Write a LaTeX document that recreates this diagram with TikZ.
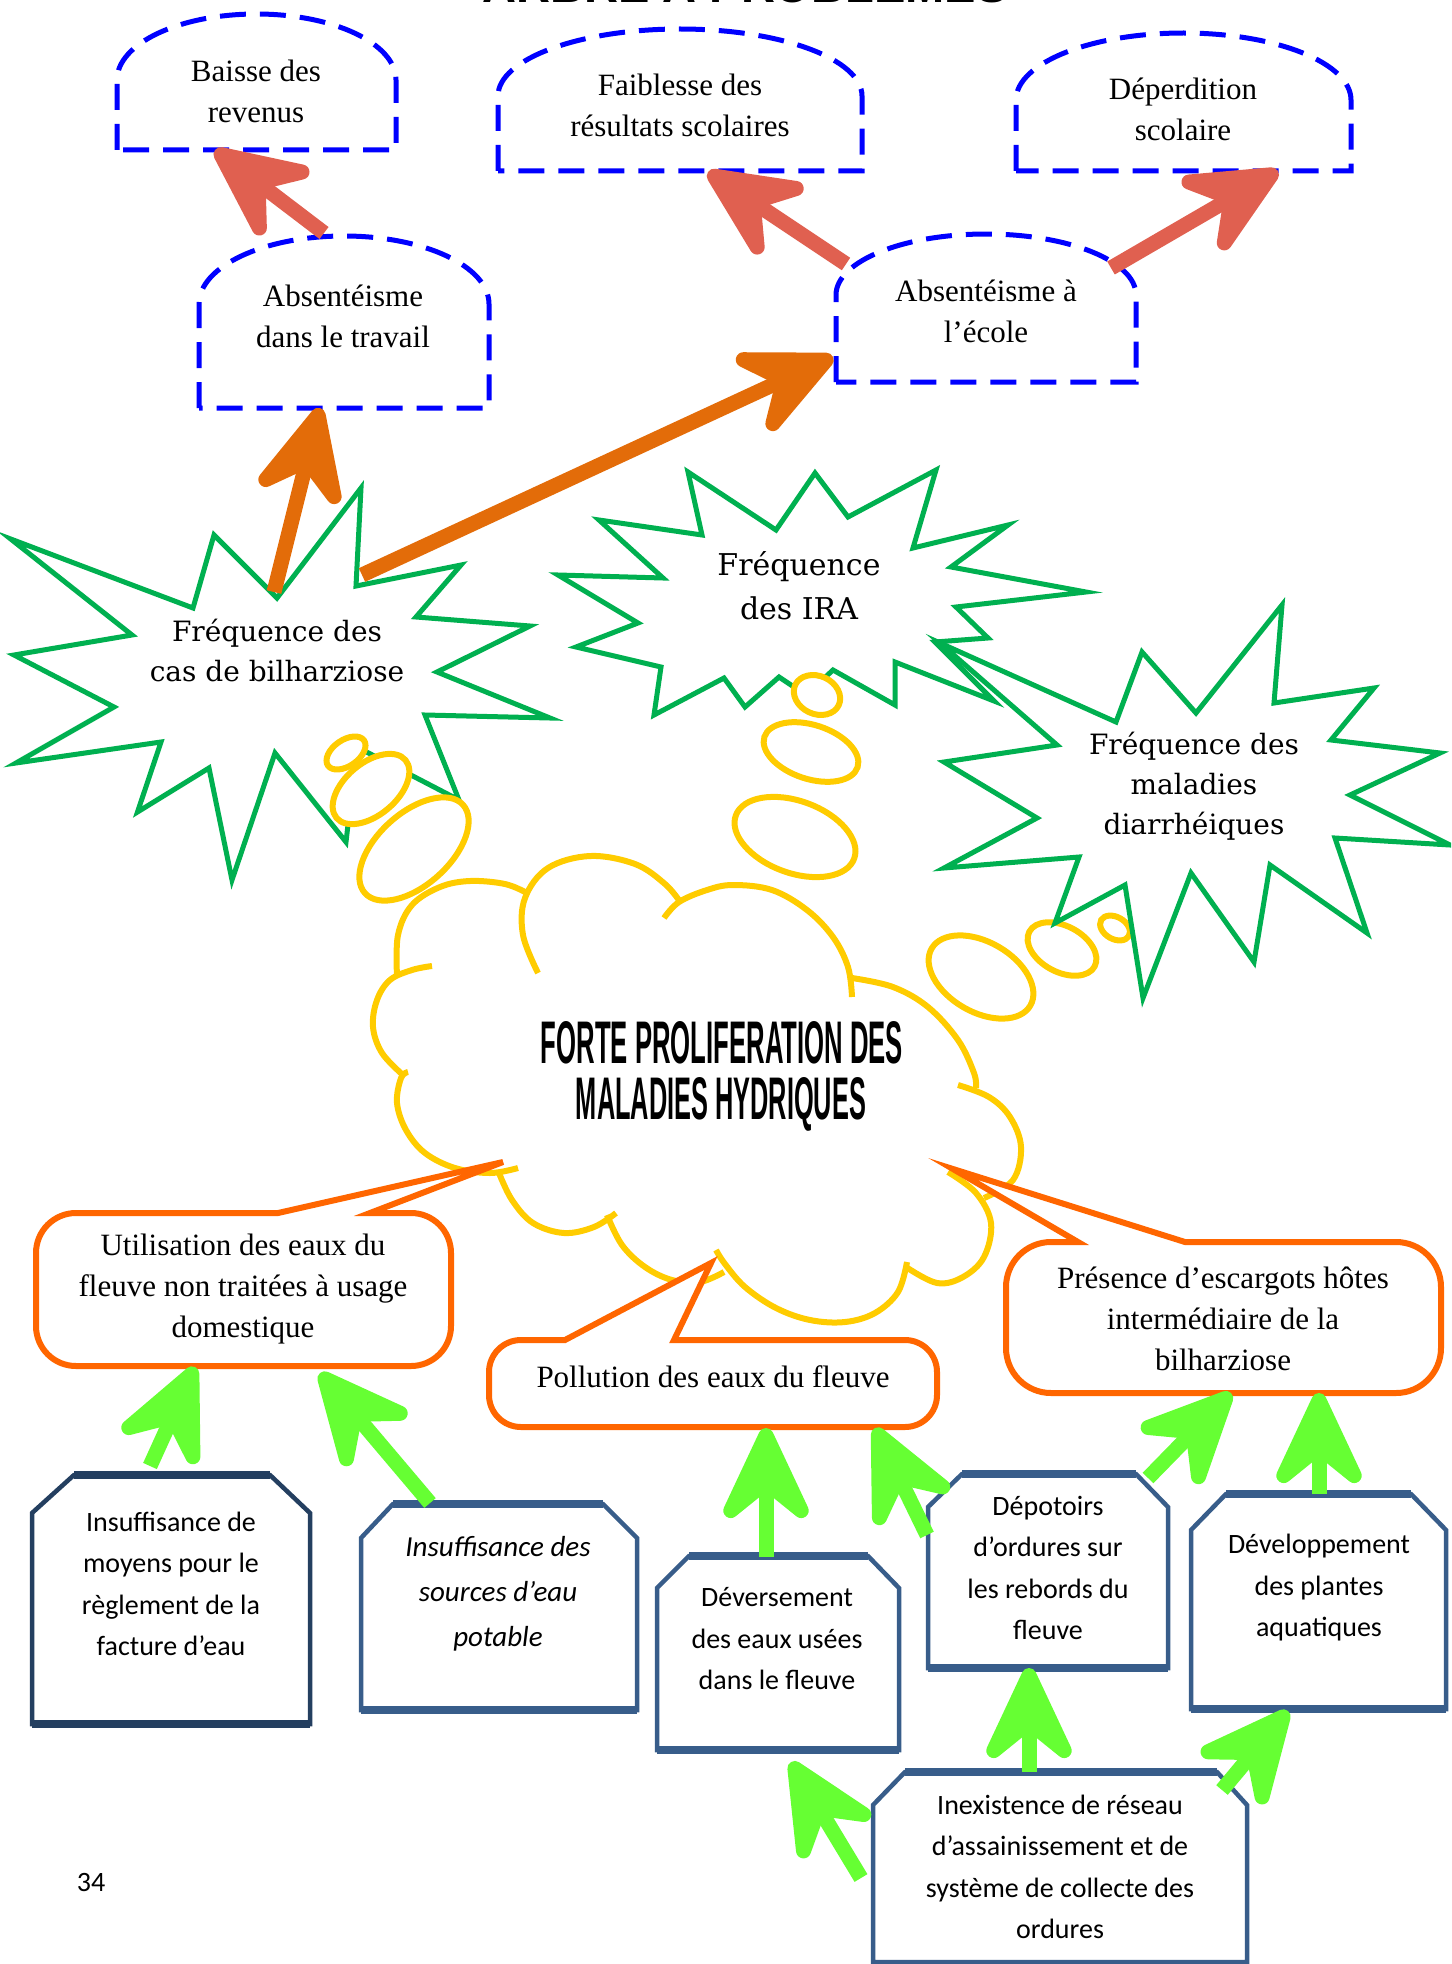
\documentclass[tikz,border=0pt]{standalone}
\usepackage{fontspec}
\newfontfamily\palfont{Liberation Serif}
\newfontfamily\calfont{Carlito}
\newfontfamily\headfont{Liberation Sans}
\newfontfamily\burstfont{DejaVu Serif}
\usetikzlibrary{arrows.meta}
\definecolor{burstgreen}{HTML}{00B050}
\definecolor{bubbleyellow}{HTML}{FFCC00}
\definecolor{calloutorange}{HTML}{FF6600}
\definecolor{boxblue}{HTML}{385D8A}
\definecolor{boxnavy}{HTML}{243F60}
\definecolor{arrowgreen}{HTML}{66FF33}
\definecolor{arrowsalmon}{HTML}{E06050}
\definecolor{arroworange}{HTML}{E36C09}
\definecolor{dashblue}{HTML}{0000FF}
\tikzset{
  burst/.style={draw=burstgreen, line width=5pt, fill=white, line join=miter},
  bubble/.style={draw=bubbleyellow, line width=6pt, fill=white},
  cloudline/.style={draw=bubbleyellow, line width=6pt},
  callout/.style={draw=calloutorange, line width=6pt, fill=white, line join=miter},
  archbox/.style={draw=dashblue, line width=5pt, fill=white, dash pattern=on 26pt off 14pt},
  hexbox/.style={draw=boxblue, line width=4.5pt, fill=white},
  hexbar/.style={draw=boxblue, line width=8pt},
  bursttext/.style={font=\burstfont\fontsize{28}{40}\selectfont, align=center, inner sep=0pt},
  paltext/.style={font=\palfont\fontsize{31}{41}\selectfont, align=center, inner sep=0pt},
  caltext/.style={font=\calfont\fontsize{28}{41.5}\selectfont, align=center, inner sep=0pt},
  bigtip/.style={-{Stealth[length=118pt,width=110pt,inset=44pt,round]}},
  garrow/.style={draw=arrowgreen, line width=15pt, bigtip},
  rarrow/.style={draw=arrowsalmon, line width=15pt, bigtip},
  oarrow/.style={draw=arroworange, line width=15pt, bigtip}
}
\begin{document}
\begin{tikzpicture}[x=1pt,y=-1pt]
\useasboundingbox (0,0) rectangle (1451,1964);
\clip (0,0) rectangle (1451,1964);

% partially visible page title
\node[anchor=base, inner sep=0pt, font=\headfont\bfseries] (pagetitle) at (745,3) {\resizebox{525pt}{!}{ARBRE A PROBLEMES}};

% ---------- cloud ----------
\fill[white] (397,976) -- (398,935) -- (412,905) -- (440,887) -- (470,881) -- (505,884) -- (527,893)
  -- (548,868) -- (590,856) -- (635,864) -- (681,903) -- (707,890) -- (733,885) -- (772,890) -- (807,910)
  -- (833,937) -- (852,978) -- (893,987) -- (928,1007) -- (958,1040) -- (976,1088) -- (989,1097)
  -- (1010,1117) -- (1021,1147) -- (1013,1180) -- (984,1200) -- (991,1223) -- (984,1257) -- (963,1277)
  -- (937,1283) -- (906,1267) -- (898,1292) -- (875,1313) -- (845,1322) -- (810,1320) -- (776,1308)
  -- (745,1287) -- (720,1262) -- (700,1282) -- (672,1280) -- (645,1267) -- (622,1245) -- (607,1215)
  -- (594,1227) -- (564,1233) -- (533,1223) -- (512,1200) -- (499,1173) -- (490,1173) -- (455,1168)
  -- (425,1153) -- (406,1130) -- (397,1103) -- (403,1075) -- (382,1053) -- (373,1027) -- (377,1000)
  -- (390,980) -- cycle;
\draw[cloudline] plot[smooth,tension=0.6] coordinates {(397,976) (398,935) (412,905) (440,887) (470,881) (505,884) (527,893)};
\draw[cloudline] plot[smooth,tension=0.6] coordinates {(538,973) (523,935) (525,898) (548,868) (590,856) (635,864) (665,884) (681,903)};
\draw[cloudline] plot[smooth,tension=0.6] coordinates {(664,918) (679,902) (707,890) (733,885) (772,890) (807,910) (833,937) (848,967) (852,997)};
\draw[cloudline] plot[smooth,tension=0.6] coordinates {(852,978) (893,987) (928,1007) (958,1040) (974,1073) (976,1088)};
\draw[cloudline] plot[smooth,tension=0.6] coordinates {(958,1085) (989,1097) (1010,1117) (1021,1147) (1013,1180) (984,1198)};
\draw[cloudline] plot[smooth,tension=0.6] coordinates {(948,1172) (976,1193) (991,1223) (984,1257) (963,1277) (937,1283) (906,1267)};
\draw[cloudline] plot[smooth,tension=0.6] coordinates {(907,1262) (898,1292) (875,1313) (845,1322) (810,1320) (776,1308) (745,1287) (725,1264) (716,1250)};
\draw[cloudline] plot[smooth,tension=0.6] coordinates {(724,1272) (700,1282) (672,1280) (645,1267) (622,1245) (607,1215)};
\draw[cloudline] plot[smooth,tension=0.6] coordinates {(616,1213) (594,1227) (564,1233) (533,1223) (512,1200) (499,1173)};
\draw[cloudline] plot[smooth,tension=0.6] coordinates {(518,1168) (490,1173) (455,1168) (425,1153) (406,1130) (397,1103) (401,1078) (408,1072)};
\draw[cloudline] plot[smooth,tension=0.6] coordinates {(403,1075) (382,1053) (373,1027) (377,1000) (390,980) (412,970) (432,966)};
\node[inner sep=0pt] (cloudtitleA) at (722,1043) {\resizebox{362pt}{42pt}{\headfont\bfseries FORTE PROLIFERATION DES}};
\node[inner sep=0pt] (cloudtitleB) at (721,1104) {\resizebox{290pt}{42pt}{\headfont\bfseries MALADIES HYDRIQUES}};

% ---------- orange callouts ----------
\draw[callout] (278,1213) -- (503,1162) -- (370,1213) -- (411,1213) arc[start angle=270,end angle=360,radius=40]
  -- (451,1326) arc[start angle=0,end angle=90,radius=40] -- (76,1366) arc[start angle=90,end angle=180,radius=40]
  -- (36,1253) arc[start angle=180,end angle=270,radius=40] -- cycle;
\draw[callout] (565,1340) -- (711,1263) -- (674,1340) -- (905,1340) arc[start angle=270,end angle=360,radius=32]
  -- (937,1395) arc[start angle=0,end angle=90,radius=32] -- (521,1427) arc[start angle=90,end angle=180,radius=32]
  -- (489,1372) arc[start angle=180,end angle=270,radius=32] -- cycle;
\draw[callout] (1078,1242) -- (953,1169) -- (1185,1242) -- (1396,1242) arc[start angle=270,end angle=360,radius=45]
  -- (1441,1348) arc[start angle=0,end angle=90,radius=45] -- (1051,1393) arc[start angle=90,end angle=180,radius=45]
  -- (1006,1287) arc[start angle=180,end angle=270,radius=45] -- cycle;
\node[paltext] (usage) at (243,1289) {Utilisation des eaux du\\fleuve non traitées à usage\\domestique};
\node[paltext] (pollution) at (713,1377) {Pollution des eaux du fleuve};
\node[paltext] (escargots) at (1223,1319) {Présence d’escargots hôtes\\intermédiaire de la\\bilharziose};

% ---------- starbursts ----------
\draw[burst] (10.7,539) -- (193,608) -- (214,535) -- (277,598) -- (361,488) -- (356,586) -- (461,565) -- (416,617)
  -- (530,626) -- (437,672) -- (550,718) -- (425,715) -- (459,800) -- (357,747) -- (346,842) -- (275,753)
  -- (232,880) -- (209,768) -- (137.5,812) -- (161,742) -- (16,763) -- (114,707) -- (14,655) -- (132,635) -- cycle;
\draw[burst] (688,472) -- (776,530) -- (815,473) -- (848,517) -- (936,470) -- (913,548) -- (1008,525) -- (951,567)
  -- (1086,592) -- (956,607) -- (988,638) -- (935,642) -- (994,701) -- (895,662) -- (895,705) -- (833,670)
  -- (806,695) -- (779,677) -- (745,707) -- (724,678) -- (654,715) -- (661,667) -- (576,647) -- (638,623)
  -- (558,575) -- (663,578) -- (599,520) -- (702,535) -- cycle;
% bubbles
\draw[bubble, rotate around={42:(414,849)}] (414,849) ellipse[x radius=66, y radius=36];
\draw[bubble, rotate around={40:(371,789)}] (371,789) ellipse[x radius=45, y radius=26];
\draw[bubble, rotate around={35:(346,753)}] (346,753) ellipse[x radius=22, y radius=13];
\draw[bubble, rotate around={-20:(795,837)}] (795,837) ellipse[x radius=63, y radius=36];
\draw[bubble, rotate around={-18:(811,752)}] (811,752) ellipse[x radius=49, y radius=27];
\draw[bubble, rotate around={-25:(817,695)}] (817,695) ellipse[x radius=24, y radius=19];
\draw[bubble, rotate around={-30:(981,977)}] (981,977) ellipse[x radius=57, y radius=35];
\draw[bubble, rotate around={-28:(1062,949)}] (1062,949) ellipse[x radius=37, y radius=23];
\draw[bubble, rotate around={-30:(1115,928)}] (1115,928) ellipse[x radius=16, y radius=11];
\draw[burst] (940,643) -- (1116,722) -- (1142,652) -- (1196,713) -- (1282,605) -- (1274,703) -- (1374,688) -- (1331,740)
  -- (1440,753) -- (1350,795) -- (1450,845) -- (1335,838) -- (1367,933) -- (1270,865) -- (1254,962) -- (1191,873)
  -- (1143,998) -- (1125,885) -- (1055,923) -- (1079,857) -- (944,868) -- (1037,818) -- (944,762) -- (1057,745) -- cycle;
\node[bursttext] (bilharziose) at (277,650) {Fréquence des\\cas de bilharziose};
\node[bursttext, font=\burstfont\fontsize{30}{44}\selectfont] (ira) at (799,586) {Fréquence\\des IRA};
\node[bursttext] (diarrhee) at (1194,786) {Fréquence des\\maladies\\diarrhéiques};

% ---------- dashed blue boxes ----------
\draw[archbox] (117,150) -- (117,80) arc[start angle=180,end angle=360,x radius=139.5,y radius=66] -- (396,150) -- cycle;
\draw[archbox] (498,171) -- (498,96) arc[start angle=180,end angle=360,x radius=182,y radius=67] -- (862,171) -- cycle;
\draw[archbox] (1016,171) -- (1016,100) arc[start angle=180,end angle=360,x radius=167.5,y radius=67] -- (1351,171) -- cycle;
\draw[archbox] (199,408) -- (199,304) arc[start angle=180,end angle=360,x radius=145,y radius=68] -- (489,408) -- cycle;
\draw[archbox] (836,382) -- (836,295) arc[start angle=180,end angle=360,x radius=150,y radius=61] -- (1136,382) -- cycle;
\node[paltext] (revenus) at (256,91) {Baisse des\\revenus};
\node[paltext] (resultats) at (680,105) {Faiblesse des\\résultats scolaires};
\node[paltext] (deperdition) at (1183,109) {Déperdition\\scolaire};
\node[paltext] (travail) at (343,316) {Absentéisme\\dans le travail};
\node[paltext] (ecole) at (986,311) {Absentéisme à\\l’école};

% ---------- bottom boxes ----------
\draw[hexbox, draw=boxnavy] (32,1724) -- (32,1513) -- (74,1475) -- (270,1475) -- (310,1513) -- (310,1724) -- cycle;
\draw[hexbar, draw=boxnavy] (74,1475) -- (270,1475) (32,1724) -- (310,1724);
\draw[hexbox] (361,1710) -- (361,1538) -- (393,1504) -- (603,1504) -- (637,1538) -- (637,1710) -- cycle;
\draw[hexbar] (393,1504) -- (603,1504) (361,1710) -- (637,1710);
\draw[hexbox] (657,1750) -- (657,1588) -- (689,1556) -- (868,1556) -- (899,1588) -- (899,1750) -- cycle;
\draw[hexbar] (689,1556) -- (868,1556) (657,1750) -- (899,1750);
\draw[hexbox] (928,1668) -- (928,1507) -- (962,1474) -- (1136,1474) -- (1168,1507) -- (1168,1668) -- cycle;
\draw[hexbar] (962,1474) -- (1136,1474) (928,1668) -- (1168,1668);
\draw[hexbox] (1191,1709) -- (1191,1530) -- (1226,1494) -- (1411,1494) -- (1446,1530) -- (1446,1709) -- cycle;
\draw[hexbar] (1226,1494) -- (1411,1494) (1191,1709) -- (1446,1709);
\draw[hexbox] (873,1962) -- (873,1805) -- (905,1772) -- (1217,1772) -- (1247,1805) -- (1247,1962) -- cycle;
\draw[hexbar] (905,1772) -- (1217,1772);
\node[caltext] (moyens) at (171,1584) {Insuffisance de\\moyens pour le\\règlement de la\\facture d’eau};
\node[caltext, font=\calfont\itshape\fontsize{29}{45}\selectfont] (sources) at (498,1594) {Insuffisance des\\sources d’eau\\potable};
\node[caltext] (deversement) at (777,1639) {Déversement\\des eaux usées\\dans le fleuve};
\node[caltext] (depotoirs) at (1048,1568) {Dépotoirs\\d’ordures sur\\les rebords du\\fleuve};
\node[caltext] (plantes) at (1319,1588) {Développement\\des plantes\\aquatiques};
\node[caltext] (reseau) at (1060,1867) {Inexistence de réseau\\d’assainissement et de\\système de collecte des\\ordures};
\node[caltext] (pagenum) at (91,1882) {34};

% ---------- arrows ----------
\coordinate (g1s) at (150,1466); \coordinate (g1e) at (195,1367);
\coordinate (g2s) at (430,1503); \coordinate (g2e) at (320,1373);
\coordinate (g3s) at (766,1557); \coordinate (g3e) at (766,1428);
\coordinate (g4s) at (927,1535); \coordinate (g4e) at (875,1428);
\coordinate (g5s) at (1148,1478); \coordinate (g5e) at (1231,1393);
\coordinate (g6s) at (1319,1494); \coordinate (g6e) at (1319,1393);
\coordinate (g7s) at (1029,1772); \coordinate (g7e) at (1029,1668);
\coordinate (g8s) at (1222,1790); \coordinate (g8e) at (1288,1711);
\coordinate (g9s) at (861,1878); \coordinate (g9e) at (791,1762);
\draw[garrow] (g1s) -- (g1e);
\draw[garrow] (g2s) -- (g2e);
\draw[garrow] (g3s) -- (g3e);
\draw[garrow] (g4s) -- (g4e);
\draw[garrow] (g5s) -- (g5e);
\draw[garrow] (g6s) -- (g6e);
\draw[garrow] (g7s) -- (g7e);
\draw[garrow] (g8s) -- (g8e);
\draw[garrow] (g9s) -- (g9e);
\coordinate (r1s) at (324,233); \coordinate (r1e) at (215,150);
\coordinate (r2s) at (846,264); \coordinate (r2e) at (708,172);
\coordinate (r3s) at (1111,268); \coordinate (r3e) at (1278,171);
\draw[rarrow] (r1s) -- (r1e);
\draw[rarrow] (r2s) -- (r2e);
\draw[rarrow] (r3s) -- (r3e);
\coordinate (o1s) at (274,592); \coordinate (o1e) at (320,408);
\coordinate (o2s) at (362,575); \coordinate (o2e) at (833,357);
\draw[oarrow] (o1s) -- (o1e);
\draw[oarrow] (o2s) -- (o2e);
\end{tikzpicture}
\end{document}
